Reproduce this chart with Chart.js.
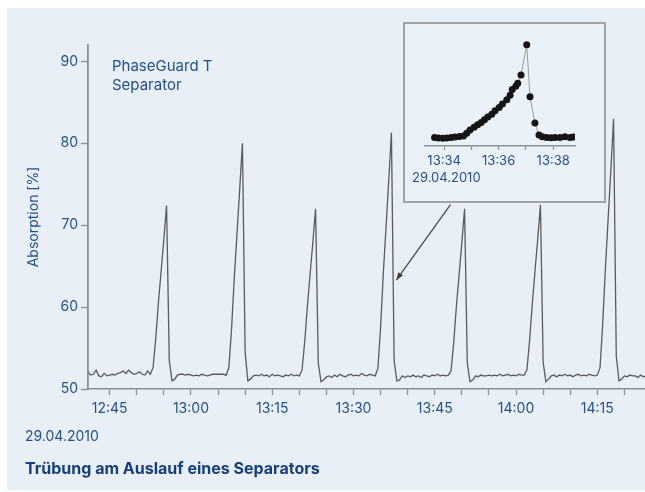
<!DOCTYPE html>
<html>
<head>
<meta charset="utf-8">
<script src="https://cdn.jsdelivr.net/npm/chart.js@4.4.1/dist/chart.umd.min.js"></script>
<style>
  html, body { margin: 0; padding: 0; background: #fff; }
  body { width: 645px; height: 492px; position: relative; overflow: hidden; font-family: Inter, "Noto Sans", sans-serif; }
  #panel { position: absolute; left: 7px; top: 8px; width: 638px; height: 482px; background: #e8eff7; }
  #mainChart { position: absolute; left: 0; top: 0; }
  .txt { position: absolute; color: #23508f; white-space: nowrap; }
  #label { left: 112px; top: 56px; font-size: 15px; line-height: 19px; }
  #date { left: 25px; top: 427px; font-size: 14px; }
  #caption { left: 25px; top: 458px; font-size: 16px; font-weight: 700; color: #143f7c; }
  #inset { position: absolute; left: 403px; top: 22px; width: 203px; height: 181px; box-sizing: border-box;
           border: 2px solid #a0a3a8; background: #ebf1f8; }
  #insetChart { position: absolute; left: 0; top: 0; }
  #insetDate { left: 7px; top: 145px; font-size: 13px; }
</style>
</head>
<body>
<div id="panel"></div>
<canvas id="mainChart" width="645" height="492"></canvas>
<div class="txt" id="label">PhaseGuard T<br>Separator</div>
<div class="txt" id="date">29.04.2010</div>
<div class="txt" id="caption">Trübung am Auslauf eines Separators</div>
<div id="inset">
  <canvas id="insetChart" width="199" height="177"></canvas>
  <div class="txt" id="insetDate">29.04.2010</div>
</div>
<script>
// main trace: one reading every half minute from 12:41 (minutes after midnight)
const mainStart = 761;
const mainStep = 0.5;
const mainValues = [
  52.1, 51.7, 51.8, 52.3, 51.6, 51.5, 51.9, 51.6, 51.7, 51.8,
  51.7, 51.9, 52.0, 52.2, 51.9, 52.3, 52.0, 51.8, 51.9, 52.1,
  51.8, 51.7, 52.2, 51.8, 52.6, 56.1, 60.6, 64.4, 68.3, 72.4,
  53.5, 51.0, 51.2, 51.7, 51.8, 51.8, 51.7, 51.8, 51.7, 51.6,
  51.7, 51.6, 51.8, 51.7, 51.6, 51.7, 51.8, 51.8, 51.8, 51.8,
  51.8, 51.7, 52.6, 57.4, 63.6, 69.0, 74.4, 80.0, 54.5, 51.0,
  51.2, 51.6, 51.7, 51.6, 51.8, 51.6, 51.7, 51.5, 51.8, 51.6,
  51.7, 51.6, 51.5, 51.7, 51.6, 51.8, 51.6, 51.7, 51.6, 52.3,
  55.8, 60.2, 64.1, 67.9, 72.0, 53.2, 50.9, 51.1, 51.5, 51.6,
  51.4, 51.7, 51.5, 51.8, 51.6, 51.5, 51.7, 51.8, 51.6, 51.7,
  51.6, 51.9, 51.7, 51.6, 51.8, 51.7, 51.6, 52.5, 57.5, 64.1,
  69.7, 75.4, 81.3, 53.5, 51.0, 51.1, 51.6, 51.4, 51.6, 51.5,
  51.7, 51.5, 51.6, 51.4, 51.7, 51.6, 51.5, 51.7, 51.6, 51.8,
  51.6, 51.7, 51.6, 51.7, 52.2, 55.7, 60.2, 64.0, 67.9, 72.0,
  53.2, 50.9, 51.1, 51.6, 51.5, 51.7, 51.6, 51.6, 51.7, 51.6,
  51.7, 51.6, 51.8, 51.6, 51.7, 51.8, 51.6, 51.7, 51.6, 51.8,
  51.7, 51.7, 52.3, 55.9, 60.4, 64.4, 68.3, 72.5, 53.3, 50.9,
  51.2, 51.6, 51.7, 51.5, 51.7, 51.6, 51.8, 51.6, 51.7, 51.5,
  51.7, 51.8, 51.6, 51.7, 51.6, 51.8, 51.7, 51.6, 51.7, 52.6,
  58.0, 64.8, 70.8, 76.7, 83.0, 54.0, 51.0, 51.2, 51.6, 51.5,
  51.7, 51.6, 51.6, 51.4, 51.7, 51.5, 51.6
];
const xTickMinutes = [765, 770, 775, 780, 785, 790, 795, 800, 805, 810, 815, 820, 825, 830, 835, 840, 845, 850, 855, 860];
const xLabelMinutes = [765, 780, 795, 810, 825, 840, 855];
const xLabels = ['12:45', '13:00', '13:15', '13:30', '13:45', '14:00', '14:15'];
const yTicks = [50, 60, 70, 80, 90];

// zoomed peak around 13:37
const insetTimes = [
  813.65, 813.79, 813.95, 814.10, 814.26, 814.40, 814.56, 814.71, 814.83, 814.95,
  815.10, 815.23, 815.36, 815.48, 815.60, 815.75, 815.87, 816.02, 816.14, 816.30,
  816.42, 816.50, 816.63, 816.70, 816.82, 817.03, 817.15, 817.33, 817.48, 817.60,
  817.76, 817.92, 818.07, 818.25, 818.43, 818.62, 818.74
];
const insetValues = [
  51.4, 51.2, 51.1, 51.2, 51.4, 51.5, 51.7, 51.9, 52.8, 53.8,
  54.7, 55.5, 56.3, 57.2, 58.1, 59.0, 60.1, 61.2, 62.3, 63.7,
  65.2, 67.0, 68.1, 69.1, 71.8, 81.6, 64.7, 56.1, 52.2, 51.6,
  51.4, 51.3, 51.4, 51.4, 51.6, 51.4, 51.5
];
const insetTickMinutes = [814, 815, 816, 817, 818];
const insetLabelMinutes = [814, 816, 818];
const insetLabels = ['13:34', '13:36', '13:38'];

// pointer from the inset down to the 13:37 peak (x in minutes, y in %)
const arrowFrom = [827.9, 72.5];
const arrowTo = [817.9, 63.3];

const blue = '#23508f';
const axisGrey = '#8c8f94';
const tickFont = { family: 'Inter', size: 14 };

const mainData = mainValues.map((v, i) => ({ x: mainStart + i * mainStep, y: v }));

const arrowPlugin = {
  id: 'arrow',
  afterDraw(chart) {
    const xs = chart.scales.x, ys = chart.scales.y;
    const x1 = xs.getPixelForValue(arrowFrom[0]), y1 = ys.getPixelForValue(arrowFrom[1]);
    const x2 = xs.getPixelForValue(arrowTo[0]), y2 = ys.getPixelForValue(arrowTo[1]);
    const ang = Math.atan2(y2 - y1, x2 - x1);
    const c = chart.ctx;
    c.save();
    c.strokeStyle = '#4a4a4a';
    c.fillStyle = '#3a3a3a';
    c.lineWidth = 1.3;
    c.beginPath();
    c.moveTo(x1, y1);
    c.lineTo(x2, y2);
    c.stroke();
    c.beginPath();
    c.moveTo(x2, y2);
    c.lineTo(x2 - 8 * Math.cos(ang - 0.35), y2 - 8 * Math.sin(ang - 0.35));
    c.lineTo(x2 - 8 * Math.cos(ang + 0.35), y2 - 8 * Math.sin(ang + 0.35));
    c.closePath();
    c.fill();
    c.restore();
  }
};

new Chart(document.getElementById('mainChart'), {
  type: 'line',
  data: {
    datasets: [{
      data: mainData,
      borderColor: '#5a5c60',
      borderWidth: 1.3,
      pointRadius: 0,
      tension: 0
    }]
  },
  options: {
    responsive: false,
    animation: false,
    layout: { padding: { left: 0, top: 45, right: 0, bottom: 0 } },
    plugins: { legend: { display: false }, tooltip: { enabled: false } },
    scales: {
      x: {
        type: 'linear',
        min: 761,
        max: 863.8,
        afterFit(scale) { scale.height = 103; },
        afterBuildTicks(scale) { scale.ticks = xTickMinutes.map(v => ({ value: v })); },
        border: { color: axisGrey, width: 1.6 },
        grid: { drawOnChartArea: false, tickLength: 6, tickColor: axisGrey, tickWidth: 1.3 },
        ticks: {
          autoSkip: false,
          maxRotation: 0,
          padding: 5,
          color: blue,
          font: tickFont,
          callback: v => {
            const k = xLabelMinutes.indexOf(v);
            return k >= 0 ? xLabels[k] : '';
          }
        }
      },
      y: {
        min: 50,
        max: 92,
        afterFit(scale) { scale.width = 88; },
        afterBuildTicks(scale) { scale.ticks = yTicks.map(v => ({ value: v })); },
        border: { color: axisGrey, width: 1.8 },
        grid: { drawOnChartArea: false, tickLength: 7, tickColor: axisGrey, tickWidth: 1.3 },
        ticks: { padding: 3, color: blue, font: tickFont },
        title: {
          display: true,
          text: 'Absorption [%]',
          color: blue,
          font: { family: 'Inter', size: 14 },
          padding: { top: 25, bottom: 0 }
        }
      }
    }
  },
  plugins: [arrowPlugin]
});

new Chart(document.getElementById('insetChart'), {
  type: 'line',
  data: {
    datasets: [{
      data: insetTimes.map((t, i) => ({ x: t, y: insetValues[i] })),
      borderColor: '#9a9a9a',
      borderWidth: 1,
      pointRadius: 3.5,
      pointBackgroundColor: '#151515',
      pointBorderColor: '#151515',
      pointBorderWidth: 0,
      tension: 0
    }]
  },
  options: {
    responsive: false,
    animation: false,
    layout: { padding: { left: 20, top: 8, right: 29, bottom: 0 } },
    plugins: { legend: { display: false }, tooltip: { enabled: false } },
    scales: {
      x: {
        type: 'linear',
        min: 813.3,
        max: 818.8,
        afterFit(scale) { scale.height = 55; },
        afterBuildTicks(scale) { scale.ticks = insetTickMinutes.map(v => ({ value: v })); },
        border: { color: axisGrey, width: 1.5 },
        grid: { drawOnChartArea: false, tickLength: 4, tickColor: axisGrey, tickWidth: 1.2 },
        ticks: {
          autoSkip: false,
          maxRotation: 0,
          padding: 3,
          color: blue,
          font: { family: 'Inter', size: 13 },
          callback: v => {
            const k = insetLabelMinutes.indexOf(v);
            return k >= 0 ? insetLabels[k] : '';
          }
        }
      },
      y: { display: false, min: 48.6, max: 85.8 }
    }
  }
});
</script>
</body>
</html>
